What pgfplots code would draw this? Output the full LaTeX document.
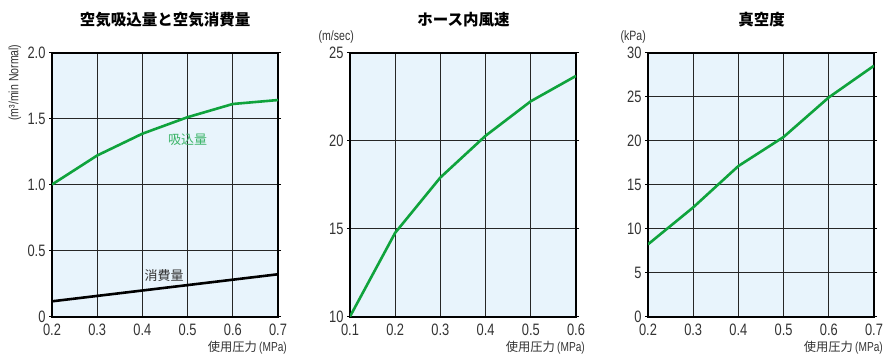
\documentclass[border=0pt]{standalone}
\usepackage{fontspec}
\usepackage{pgfplots}
\pgfplotsset{compat=1.18}
\setmainfont{Liberation Sans}[FakeStretch=0.78]
\newfontfamily\cjk{Noto Sans CJK JP}
\definecolor{bgblue}{HTML}{E8F4FC}
\definecolor{lgreen}{HTML}{0FA33C}
\definecolor{lblgreen}{HTML}{3DB56A}
\pgfplotsset{myax/.style={
  scale only axis, width=226pt, height=264pt,
  axis background/.style={fill=bgblue},
  grid=major, major grid style={black!85, line width=1.1pt},
  axis line style={line width=2pt, black},
  tick label style={font=\fontsize{16.5}{16.5}\selectfont, text=black!80},
  /pgf/number format/assume math mode=true,
  xtick style={draw=none},
  ytick style={black, line width=1pt},
  tick align=outside, major tick length=3pt,
  xticklabel style={yshift=-1pt},
  clip=true,
}}
\begin{document}
\begin{tikzpicture}
\path[use as bounding box] (0,0) rectangle (884pt,-354pt);
% chart 1
\begin{axis}[myax, at={(52pt,-316.5pt)}, anchor=south west,
  xmin=0.2, xmax=0.7, ymin=0, ymax=2,
  xtick={0.2,0.3,0.4,0.5,0.6,0.7}, xticklabels={0.2,0.3,0.4,0.5,0.6,0.7},
  ytick={0,0.5,1,1.5,2}, yticklabels={0,0.5,1.0,1.5,2.0}]
\addplot[lgreen, line width=2.6pt] coordinates {(0.2,1.0) (0.3,1.22) (0.4,1.385) (0.5,1.51) (0.6,1.61) (0.7,1.64)};
\addplot[black, line width=2.6pt] coordinates {(0.2,0.115) (0.7,0.32)};
\node[text=lblgreen, font=\cjk\fontsize{13}{13}\selectfont] at (axis cs:0.5,1.34) {吸込量};
\node[text=black!80, font=\cjk\fontsize{13}{13}\selectfont] at (axis cs:0.448,0.31) {消費量};
\end{axis}
% chart 2
\begin{axis}[myax, at={(350pt,-316.5pt)}, anchor=south west,
  xmin=0.1, xmax=0.6, ymin=10, ymax=25,
  xtick={0.1,0.2,0.3,0.4,0.5,0.6}, xticklabels={0.1,0.2,0.3,0.4,0.5,0.6},
  ytick={10,15,20,25}]
\addplot[lgreen, line width=2.6pt] coordinates {(0.1,10) (0.2,14.76) (0.3,17.9) (0.4,20.27) (0.5,22.23) (0.6,23.67)};
\end{axis}
% chart 3
\begin{axis}[myax, at={(648pt,-316.5pt)}, anchor=south west,
  xmin=0.2, xmax=0.7, ymin=0, ymax=30,
  xtick={0.2,0.3,0.4,0.5,0.6,0.7}, xticklabels={0.2,0.3,0.4,0.5,0.6,0.7},
  ytick={0,5,10,15,20,25,30}]
\addplot[lgreen, line width=2.6pt] coordinates {(0.2,8.2) (0.3,12.4) (0.4,17.1) (0.5,20.4) (0.6,24.9) (0.7,28.5)};
\end{axis}
% titles
\node[font=\cjk\bfseries\fontsize{15.5}{15.5}\selectfont] at (165pt,-20pt) {空気吸込量と空気消費量};
\node[font=\cjk\bfseries\fontsize{15.5}{15.5}\selectfont] at (463.5pt,-20pt) {ホース内風速};
\node[font=\cjk\bfseries\fontsize{15.5}{15.5}\selectfont] at (761.5pt,-20pt) {真空度};
% units
\node[rotate=90, font=\fontsize{13.5}{13.5}\selectfont, text=black!80] at (15pt,-82.5pt) {(m³/min Normal)};
\node[anchor=east, font=\fontsize{13.5}{13.5}\selectfont, text=black!80, inner sep=0pt] at (354pt,-37pt) {(m/sec)};
\node[anchor=east, font=\fontsize{13.5}{13.5}\selectfont, text=black!80, inner sep=0pt] at (646pt,-37pt) {(kPa)};
% x labels
\node[anchor=east, text=black!80, inner sep=0pt] at (287pt,-348pt) {{\cjk\fontsize{12.3}{12.3}\selectfont 使用圧力} {\fontsize{13}{13}\selectfont(MPa)}};
\node[anchor=east, text=black!80, inner sep=0pt] at (585pt,-348pt) {{\cjk\fontsize{12.3}{12.3}\selectfont 使用圧力} {\fontsize{13}{13}\selectfont(MPa)}};
\node[anchor=east, text=black!80, inner sep=0pt] at (883pt,-348pt) {{\cjk\fontsize{12.3}{12.3}\selectfont 使用圧力} {\fontsize{13}{13}\selectfont(MPa)}};
\end{tikzpicture}
\end{document}
